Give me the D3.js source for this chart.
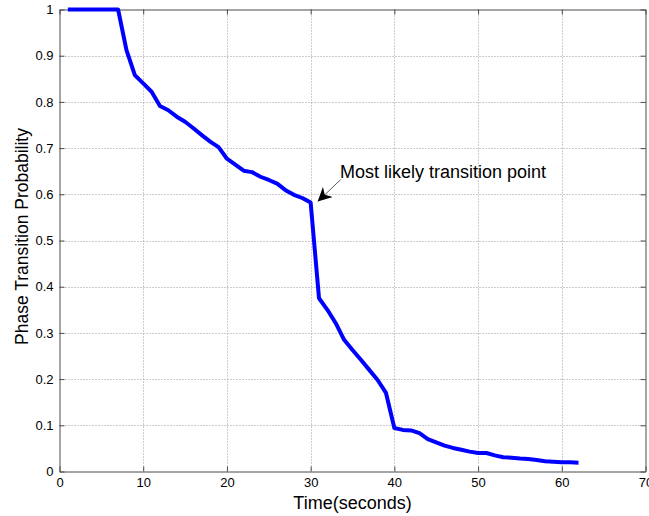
<!DOCTYPE html>
<html>
<head>
<meta charset="utf-8">
<script src="https://cdn.jsdelivr.net/npm/d3@7"></script>
<style>
  html, body { margin: 0; padding: 0; background: #fff; }
  svg { display: block; font-family: "Liberation Sans", Arial, sans-serif; }
</style>
</head>
<body>
<svg id="chart" width="649" height="516"></svg>
<script>
// Time in seconds
const times = [1,2,3,4,5,6,7,8,9,10,11,12,13,14,15,16,17,18,19,20,21,22,23,24,25,26,27,28,29,30,
  31,32,33,34,35,36,37,38,39,40,41,42,43,44,45,46,47,48,49,50,51,52,53,54,55,56,57,58,59,60,61,62];
// Phase transition probability at each second
const probability = [1,1,1,1,1,1,1,0.912,0.858,0.840,0.822,0.791,0.782,0.768,0.757,0.743,0.728,0.714,0.702,0.677,
  0.664,0.651,0.648,0.638,0.631,0.623,0.609,0.599,0.592,0.582,
  0.375,0.350,0.321,0.285,0.263,0.242,0.220,0.198,0.170,0.094,
  0.090,0.089,0.083,0.070,0.063,0.056,0.051,0.047,0.043,0.040,
  0.040,0.035,0.031,0.030,0.028,0.027,0.025,0.022,0.021,0.020,0.020,0.019];
const xTicks = [0,10,20,30,40,50,60,70];
const yTicks = [0,0.1,0.2,0.3,0.4,0.5,0.6,0.7,0.8,0.9,1];
const xLabel = "Time(seconds)";
const yLabel = "Phase Transition Probability";
const note = { text: "Most likely transition point", t: 30, p: 0.582 };

const svg = d3.select("#chart");
const plotLeft = 59.5, plotRight = 645.5, plotTop = 9.5, plotBottom = 471.5;

const x = d3.scaleLinear().domain([0, 70]).range([plotLeft, plotRight]);
const y = d3.scaleLinear().domain([0, 1]).range([plotBottom, plotTop]);

const axisColor = "#4a4a4a";
const tickLen = 5;

// dotted grid
const grid = svg.append("g");
grid.selectAll(".gx").data(xTicks.slice(1, -1)).join("line")
  .attr("x1", d => Math.round(x(d)) + 0.5).attr("x2", d => Math.round(x(d)) + 0.5)
  .attr("y1", plotTop).attr("y2", plotBottom)
  .attr("stroke", "#9a9a9a").attr("stroke-width", 1).attr("stroke-dasharray", "1,2");
grid.selectAll(".gy").data(yTicks.slice(1, -1)).join("line")
  .attr("y1", d => Math.round(y(d)) + 0.5).attr("y2", d => Math.round(y(d)) + 0.5)
  .attr("x1", plotLeft).attr("x2", plotRight)
  .attr("stroke", "#9a9a9a").attr("stroke-width", 1).attr("stroke-dasharray", "1,2");

// axes with inward ticks on all four sides
function styleAxis(g) {
  g.select(".domain").attr("stroke", axisColor);
  g.selectAll(".tick line").attr("stroke", axisColor);
  g.selectAll(".tick text").attr("fill", "#000").attr("font-size", 13)
    .attr("font-family", "Liberation Sans, Arial, sans-serif");
}
svg.append("g").attr("transform", `translate(0,${plotBottom})`)
  .call(d3.axisBottom(x).tickValues(xTicks).tickFormat(d3.format("d"))
    .tickSizeInner(-tickLen).tickSizeOuter(0).tickPadding(6))
  .call(styleAxis);
svg.append("g").attr("transform", `translate(0,${plotTop})`)
  .call(d3.axisTop(x).tickValues(xTicks).tickFormat("")
    .tickSizeInner(-tickLen).tickSizeOuter(0))
  .call(styleAxis);
svg.append("g").attr("transform", `translate(${plotLeft},0)`)
  .call(d3.axisLeft(y).tickValues(yTicks).tickFormat(d3.format("~g"))
    .tickSizeInner(-tickLen).tickSizeOuter(0).tickPadding(6))
  .call(styleAxis);
svg.append("g").attr("transform", `translate(${plotRight},0)`)
  .call(d3.axisRight(y).tickValues(yTicks).tickFormat("")
    .tickSizeInner(-tickLen).tickSizeOuter(0))
  .call(styleAxis);

// data line
const line = d3.line().x((d, i) => x(times[i])).y(d => y(d));
svg.append("path").datum(probability)
  .attr("d", line)
  .attr("fill", "none").attr("stroke", "#0000ff")
  .attr("stroke-width", 4).attr("stroke-linejoin", "round");

// annotation arrow and text
const defs = svg.append("defs");
defs.append("marker").attr("id", "head")
  .attr("viewBox", "0 0 10 10").attr("refX", 10).attr("refY", 5)
  .attr("markerWidth", 14).attr("markerHeight", 14).attr("markerUnits", "userSpaceOnUse")
  .attr("orient", "auto")
  .append("path").attr("d", "M0,0 L10,5 L0,10 L3,5 Z").attr("fill", "#000");

const tipX = x(note.t) + 7, tipY = y(note.p) - 1;
svg.append("line")
  .attr("x1", tipX + 23).attr("y1", tipY - 22)
  .attr("x2", tipX).attr("y2", tipY)
  .attr("stroke", "#333").attr("stroke-width", 0.8)
  .attr("marker-end", "url(#head)");
svg.append("text").attr("x", 340).attr("y", 178)
  .attr("font-size", 18).attr("fill", "#000").text(note.text);

// axis titles
svg.append("text").attr("x", (plotLeft + plotRight) / 2).attr("y", 509)
  .attr("text-anchor", "middle").attr("font-size", 18).text(xLabel);
svg.append("text")
  .attr("transform", `translate(28,${(plotTop + plotBottom) / 2 - 4}) rotate(-90)`)
  .attr("text-anchor", "middle").attr("font-size", 17.5).text(yLabel);
</script>
</body>
</html>
